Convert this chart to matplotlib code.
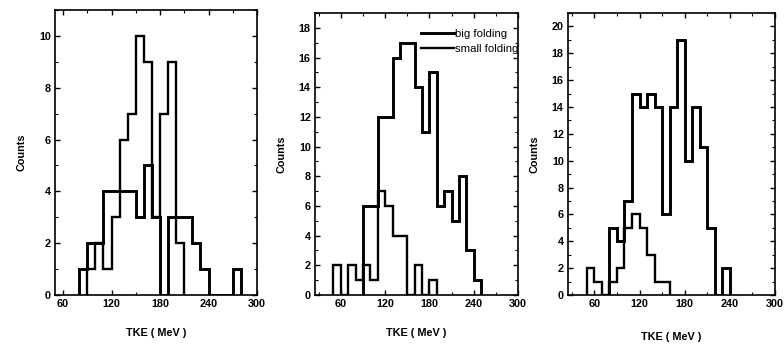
import numpy as np
import matplotlib as mpl
mpl.use('Agg')
import matplotlib.pyplot as plt
from matplotlib.ticker import MultipleLocator

mpl.rcParams['font.family'] = ['Liberation Sans', 'DejaVu Sans']
mpl.rcParams['font.weight'] = 'bold'
mpl.rcParams['axes.linewidth'] = 1.2
mpl.rcParams['xtick.direction'] = 'in'
mpl.rcParams['ytick.direction'] = 'in'
mpl.rcParams['xtick.top'] = True
mpl.rcParams['ytick.right'] = True

# bin width of all histograms (MeV)
bin_width = 10

# panel (a)
a_big_start = 80
a_big = [1, 2, 2, 4, 4, 4, 4, 3, 5, 3, 0, 3, 3, 3, 2, 1, 0, 0, 0, 1]
a_small_start = 90
a_small = [1, 2, 1, 3, 6, 7, 10, 9, 3, 7, 9, 2]

# panel (b)
b_big_start = 90
b_big = [6, 6, 12, 12, 16, 17, 17, 14, 11, 15, 6, 7, 5, 8, 3, 1]
b_small_start = 50
b_small = [2, 0, 2, 1, 2, 1, 7, 6, 4, 4, 0, 2, 0, 1]

# panel (c)
c_big_start = 80
c_big = [5, 4, 7, 15, 14, 15, 14, 6, 14, 19, 10, 14, 11, 5, 0, 2]
c_small_start = 50
c_small = [2, 1, 0, 1, 2, 5, 6, 5, 3, 1, 1]

panels = [
    dict(big=(a_big_start, a_big), small=(a_small_start, a_small),
         xlim=(50, 300), ylim=(0, 11), ystep=2),
    dict(big=(b_big_start, b_big), small=(b_small_start, b_small),
         xlim=(25, 300), ylim=(0, 19), ystep=2),
    dict(big=(c_big_start, c_big), small=(c_small_start, c_small),
         xlim=(25, 300), ylim=(0, 21), ystep=2),
]

rects = [
    [55 / 784, 60 / 355, 202 / 784, 285 / 355],
    [315 / 784, 60 / 355, 203 / 784, 282 / 355],
    [568 / 784, 60 / 355, 207 / 784, 282 / 355],
]
xlabel_y = [0.062, 0.062, 0.050]


def edges_for(start, counts):
    return start + bin_width * np.arange(len(counts) + 1)


fig = plt.figure(figsize=(7.84, 3.55), dpi=100)

for i, (p, r) in enumerate(zip(panels, rects)):
    ax = fig.add_axes(r)
    s, cnt = p['big']
    ax.stairs(cnt, edges_for(s, cnt), color='black', lw=2.1,
              label='big folding')
    s, cnt = p['small']
    ax.stairs(cnt, edges_for(s, cnt), color='black', lw=1.7,
              label='small folding')

    ax.set_xlim(*p['xlim'])
    ax.set_ylim(*p['ylim'])
    ax.set_xticks([60, 120, 180, 240, 300])
    ax.xaxis.set_minor_locator(MultipleLocator(30))
    ax.yaxis.set_major_locator(MultipleLocator(p['ystep']))
    ax.yaxis.set_minor_locator(MultipleLocator(1))
    ax.tick_params(which='major', length=3.5, width=1.0, labelsize=7.8, pad=3)
    ax.tick_params(which='minor', length=2, width=0.8)
    for lab in ax.get_xticklabels() + ax.get_yticklabels():
        lab.set_fontweight('bold')

    ax.set_ylabel('Counts', fontsize=7.8, fontweight='bold', labelpad=9)
    fig.text(r[0] + r[2] * 0.5, xlabel_y[i], 'TKE ( MeV )', fontsize=7.8,
             fontweight='bold', ha='center', va='center')

    if i == 1:
        leg = ax.legend(loc='upper left', bbox_to_anchor=(0.52, 0.945),
                        frameon=False, fontsize=8.2, handlelength=2.9,
                        handletextpad=0.15, labelspacing=0.5, borderpad=0,
                        borderaxespad=0)
        leg.set_clip_on(False)
        for t in leg.get_texts():
            t.set_fontweight('normal')

fig.savefig('out.png', dpi=100)
